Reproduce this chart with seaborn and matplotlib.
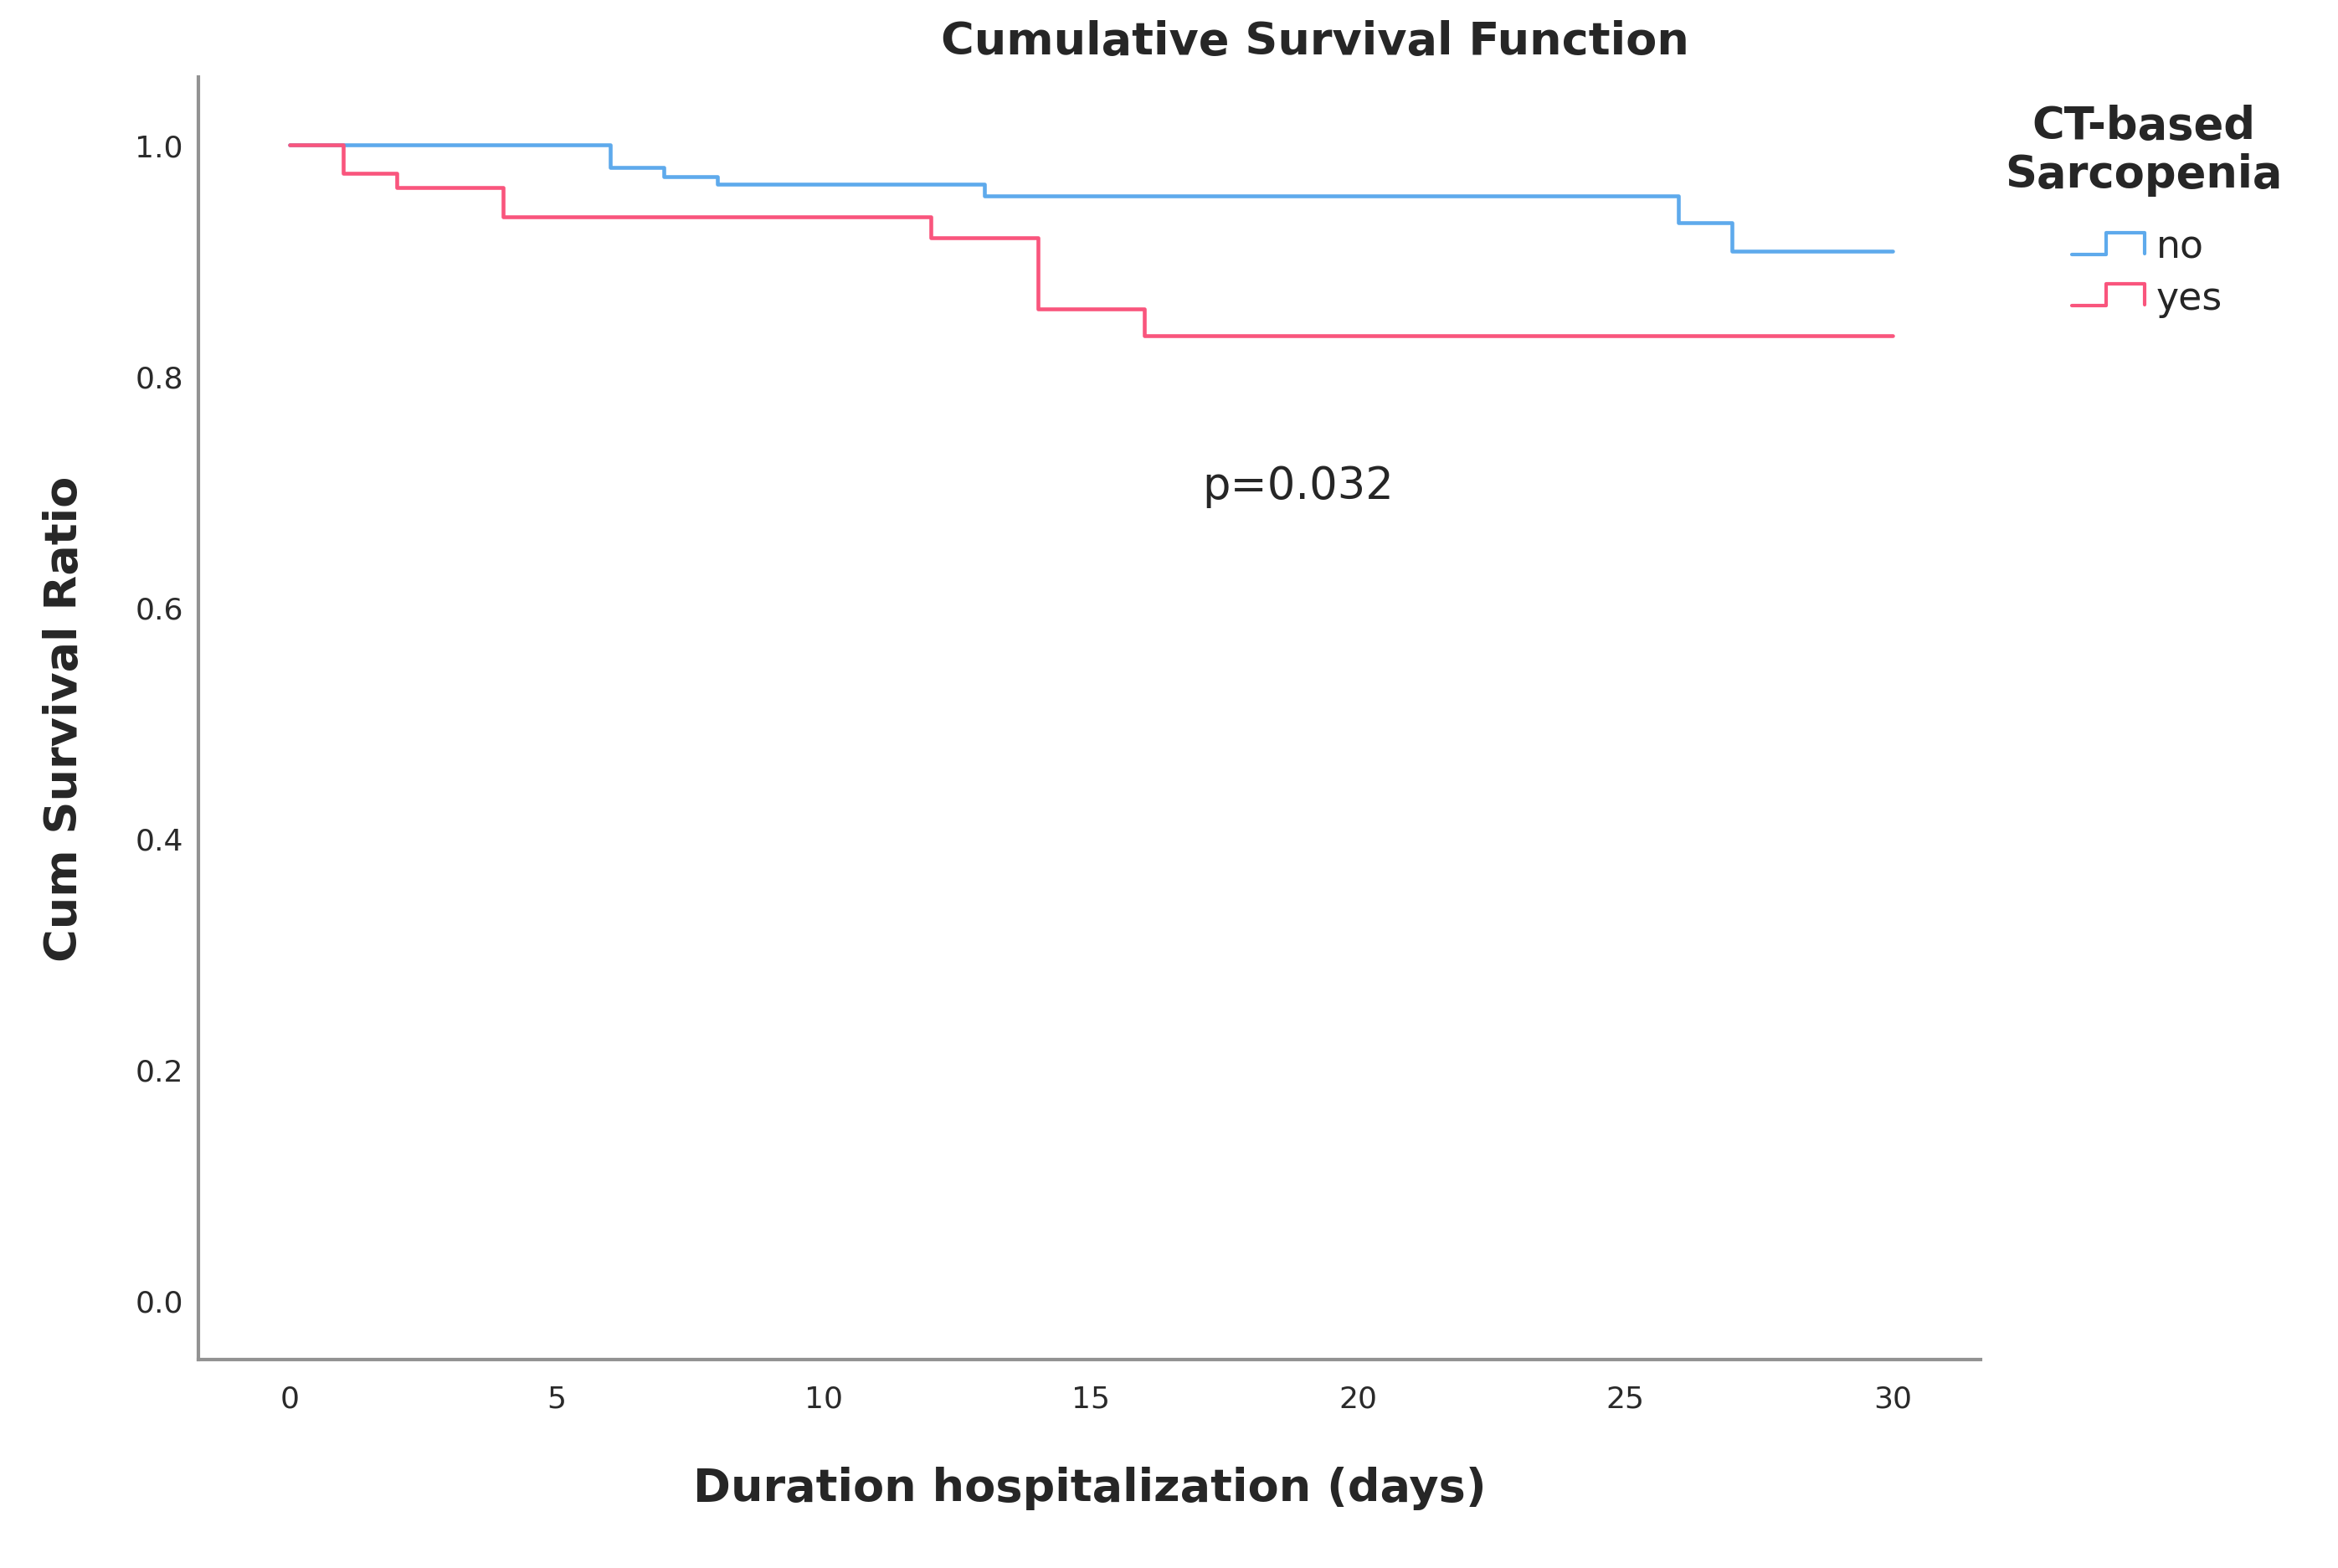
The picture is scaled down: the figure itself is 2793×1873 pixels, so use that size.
import numpy as np
import pandas as pd
import matplotlib
matplotlib.use("Agg")
import matplotlib.pyplot as plt
import seaborn as sns
from matplotlib.legend_handler import HandlerBase
from matplotlib.lines import Line2D

# ---- data ----
groups = ["no", "yes"]
time_no = [0, 6, 7, 8, 13, 26, 27, 30]
surv_no = [1.0, 0.981, 0.973, 0.966, 0.956, 0.933, 0.908, 0.908]
time_yes = [0, 1, 2, 4, 12, 14, 16, 30]
surv_yes = [1.0, 0.976, 0.963, 0.938, 0.920, 0.858, 0.835, 0.835]
x_ticks = [0, 5, 10, 15, 20, 25, 30]
y_ticks = [0.0, 0.2, 0.4, 0.6, 0.8, 1.0]
p_text = "p=0.032"
legend_title = "CT-based\nSarcopenia"

df = pd.concat([
    pd.DataFrame({"time": time_no, "surv": surv_no, "group": "no"}),
    pd.DataFrame({"time": time_yes, "surv": surv_yes, "group": "yes"}),
], ignore_index=True)

palette = {"no": "#5eaaec", "yes": "#f9557d"}

sns.set_style("white")
plt.rcParams["font.family"] = ["DejaVu Sans"]

W, H = 2793, 1874
L, R, T, B = 237, 2366, 93, 1625
fig = plt.figure(figsize=(W / 100, H / 100), dpi=100)
ax = fig.add_axes([L / W, 1 - B / H, (R - L) / W, (B - T) / H])

sns.lineplot(data=df, x="time", y="surv", hue="group", hue_order=groups,
             palette=palette, estimator=None, drawstyle="steps-post",
             linewidth=3.3, ax=ax, legend=False)

ax.set_xlim(-1.71, 31.65)
ax.set_ylim(-0.0515, 1.059)
ax.set_xticks(x_ticks)
ax.set_xticklabels([str(t) for t in x_ticks])
ax.set_yticks(y_ticks)
ax.set_yticklabels([f"{v:.1f}" for v in y_ticks])
ax.tick_params(axis="both", length=0, labelsize=26, colors="#2a2a2a")
ax.tick_params(axis="x", pad=21)
ax.tick_params(axis="y", pad=13)

for s in ["top", "right"]:
    ax.spines[s].set_visible(False)
for s in ["left", "bottom"]:
    ax.spines[s].set_color("#929292")
    ax.spines[s].set_linewidth(3.0)

ax.set_xlabel("Duration hospitalization (days)", fontsize=39, fontweight="bold",
              labelpad=46)
ax.set_ylabel("Cum Survival Ratio", fontsize=39, fontweight="bold", labelpad=42)

fig.text(1571 / W, 1 - 50 / H, "Cumulative Survival Function", ha="center",
         va="center", fontsize=39, fontweight="bold")
ax.text(18.87, 0.705, p_text, ha="center", va="center", fontsize=38)

# legend title as separate text
fig.text(2561 / W, 1 - 180 / H, legend_title, ha="center", va="center",
         fontsize=38, fontweight="bold", linespacing=1.15,
         multialignment="center")


class StepHandler(HandlerBase):
    def create_artists(self, legend, orig_handle, xdescent, ydescent, width,
                       height, fontsize, trans):
        xs = np.array([0, 0.47, 0.47, 1.0, 1.0]) * width - xdescent
        ys = np.array([0.05, 0.05, 1.0, 1.0, 0.1]) * height - ydescent
        ln = Line2D(xs, ys, color=orig_handle.get_color(), linewidth=3.0)
        ln.set_transform(trans)
        return [ln]


handles = [Line2D([], [], color=palette[g]) for g in groups]
leg = fig.legend(handles, groups,
                 loc="center left", bbox_to_anchor=(2452 / W, 1 - 327 / H),
                 frameon=False, fontsize=33, handlelength=1.9, handleheight=0.55,
                 handletextpad=0.3, labelspacing=0.35, borderpad=0,
                 handler_map={Line2D: StepHandler()})

fig.savefig("out.png", dpi=100)
